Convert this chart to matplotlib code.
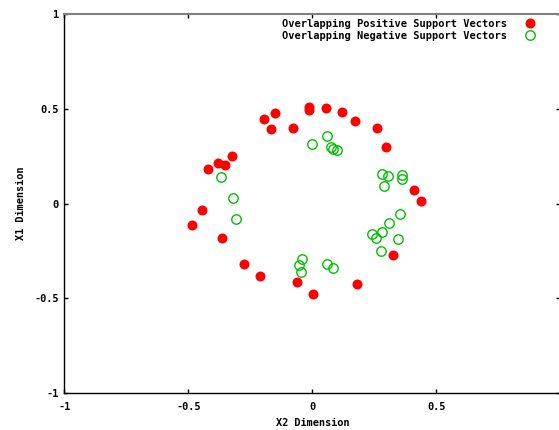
import matplotlib
matplotlib.use("Agg")
import matplotlib.pyplot as plt

# positive support vectors (red filled)
pos_x = [-0.484, -0.445, -0.421, -0.381, -0.352, -0.323, -0.363, -0.275, -0.212,
         -0.195, -0.165, -0.149, -0.077, -0.013, -0.013, 0.056, 0.120, 0.171,
         0.262, 0.298, 0.409, 0.440, 0.324, -0.060, 0.003, 0.181]
pos_y = [-0.111, -0.032, 0.185, 0.213, 0.206, 0.252, -0.179, -0.318, -0.383,
         0.445, 0.392, 0.477, 0.398, 0.510, 0.494, 0.503, 0.485, 0.438,
         0.398, 0.299, 0.072, 0.016, -0.269, -0.415, -0.478, -0.425]

# negative support vectors (green open)
neg_x = [-0.369, -0.319, -0.309, -0.001, 0.060, 0.074, 0.082, 0.098, 0.280,
         0.306, 0.363, 0.360, 0.289, 0.355, 0.310, 0.282, 0.240, 0.256, 0.346,
         0.277, -0.040, -0.055, -0.047, 0.060, 0.082]
neg_y = [0.142, 0.030, -0.082, 0.315, 0.355, 0.301, 0.290, 0.285, 0.157,
         0.146, 0.150, 0.130, 0.095, -0.053, -0.103, -0.151, -0.160, -0.179, -0.188,
         -0.248, -0.293, -0.323, -0.359, -0.316, -0.341]

xticks = [-1, -0.5, 0, 0.5, 1]
xlabels = ['-1', '-0.5', '0', '0.5', '']
yticks = [-1, -0.5, 0, 0.5, 1]
ylabels = ['-1', '-0.5', '0', '0.5', '1']

font = {'family': 'DejaVu Sans Mono', 'weight': 'bold', 'size': 7.4}
legfont = {'family': 'DejaVu Sans Mono', 'weight': 'bold', 'size': 7.45}

fig = plt.figure(figsize=(5.59, 4.30), dpi=100)
W, H = 559, 430
ax = fig.add_axes([64.3 / W, 1 - 393.3 / H, (560.3 - 64.3) / W, (393.3 - 14) / H])

ax.plot(pos_x, pos_y, 'o', color='#ff0000', markersize=7.2, markeredgewidth=0,
        label='Overlapping Positive Support Vectors')
ax.plot(neg_x, neg_y, 'o', markerfacecolor='none', markeredgecolor='#00c000',
        markersize=6.8, markeredgewidth=1.0,
        label='Overlapping Negative Support Vectors')

ax.set_xlim(-1, 1)
ax.set_ylim(-1, 1)
ax.set_xticks(xticks)
ax.set_xticklabels(xlabels, fontdict=font)
ax.set_yticks(yticks)
ax.set_yticklabels(ylabels, fontdict=font)
ax.tick_params(direction='in', length=3, width=1, top=True, right=True, pad=4)
ax.tick_params(axis='x', pad=6)

for s in ['left', 'bottom', 'right']:
    ax.spines[s].set_color('black')
    ax.spines[s].set_linewidth(1)
ax.spines['top'].set_color('#808080')
ax.spines['top'].set_linewidth(1.5)

ax.set_xlabel('X2 Dimension', fontdict=font)
ax.set_ylabel('X1 Dimension', fontdict=font)
ax.xaxis.set_label_coords(0.5, -0.065)
ax.yaxis.set_label_coords(-0.077, 0.5)

leg = ax.legend(loc='upper right', bbox_to_anchor=(535.5 / W, 1 - 19 / H),
                bbox_transform=fig.transFigure, markerfirst=False, frameon=False,
                prop=legfont, handlelength=1.0, handletextpad=1.8, labelspacing=0.15,
                borderpad=0, borderaxespad=0)

fig.savefig('out.png', dpi=100)
